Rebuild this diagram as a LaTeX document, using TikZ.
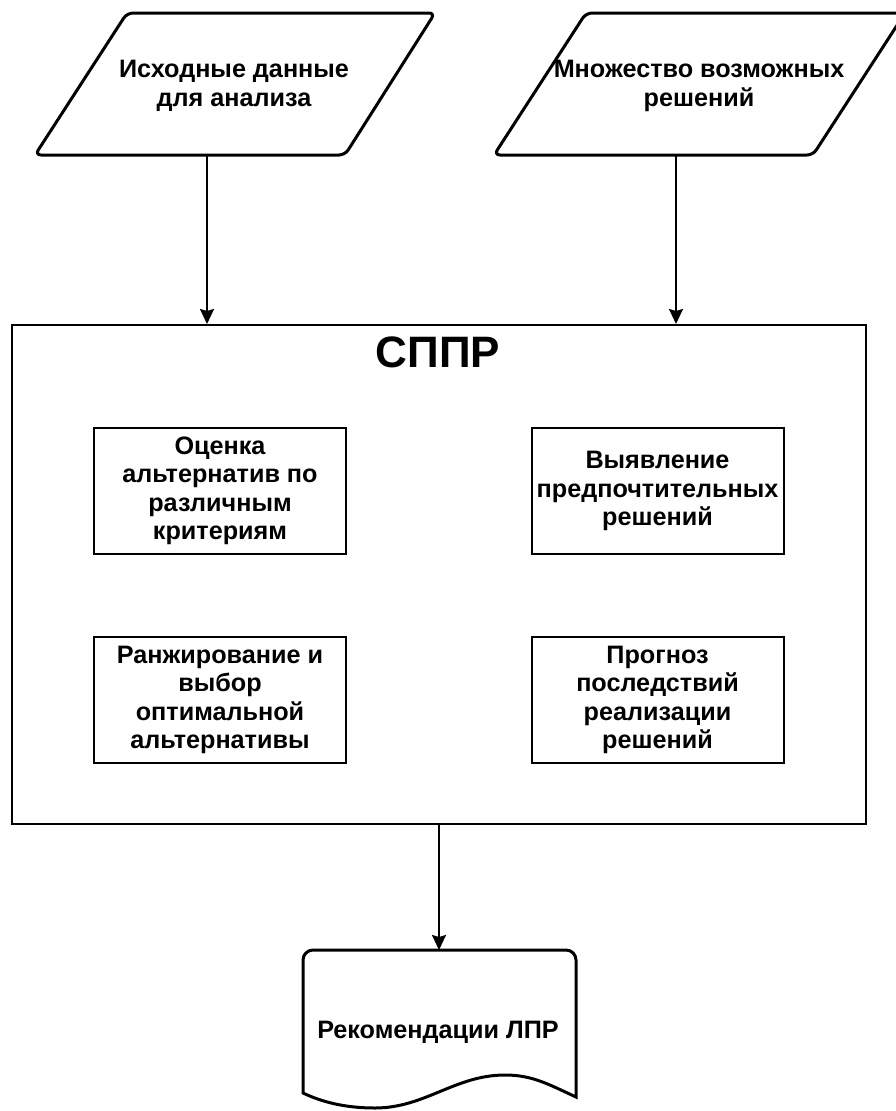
\documentclass[tikz,border=0pt]{standalone}
\usepackage{fontspec}
\setmainfont{Liberation Sans}
\usetikzlibrary{arrows.meta}
\begin{document}
\begin{tikzpicture}[x=1pt,y=-1pt,
  iofig/.style={line width=3pt, rounded corners=6pt},
  txt/.style={align=center, inner sep=0pt, font=\fontsize{25.2}{28.5}\selectfont\bfseries},
  inbox/.style={txt, draw, line width=2pt, minimum width=252pt, minimum height=126pt},
  arr/.style={-{Stealth[length=15pt,width=14pt,inset=2pt]}, line width=2pt},
  docfig/.style={line width=3pt}
]
\path[fill=white] (0,0) rectangle (896,1111);
\useasboundingbox (0,0) rectangle (896,1111);

% input parallelograms
\draw[iofig] (127,13) -- (435,13) -- (345,155) -- (35,155) -- cycle;
\node[txt] (in1) at (234,86) {Исходные данные\\для анализа};
\coordinate (p1b) at (207,155);

\draw[iofig] (586,13) -- (905,13) -- (813,155) -- (494,155) -- cycle;
\node[txt] (in2) at (699,86) {Множество возможных\\решений};
\coordinate (p2b) at (676,155);

% main box
\node[draw, line width=2pt, minimum width=854pt, minimum height=499pt, inner sep=0pt] (sppr) at (439,574.5) {};
\node[inner sep=0pt, font=\fontsize{44}{50}\selectfont\bfseries, anchor=base] (title) at (438,367) {СППР};

% inner boxes
\node[inbox] (b1) at (220,491) {Оценка\\альтернатив по\\различным\\критериям};
\node[inbox] (b2) at (657.5,491) {Выявление\\предпочтительных\\решений};
\node[inbox] (b3) at (220,700) {Ранжирование и\\выбор\\оптимальной\\альтернативы};
\node[inbox] (b4) at (657.5,700) {Прогноз\\последствий\\реализации\\решений};

% document
\draw[docfig] (303,1093) [rounded corners=10pt] -- (303,950) -- (576,950) [sharp corners] -- (576,1097)
  .. controls (548,1084) and (532,1075) .. (505,1075)
  .. controls (455,1075) and (425,1108) .. (375,1108)
  .. controls (345,1108) and (322,1102) .. (303,1093) -- cycle;
\coordinate (doctop) at (439,950);
\node[txt] (doc) at (438,1032) {Рекомендации ЛПР};

% connectors
\draw[arr] (p1b) -- (p1b |- sppr.north);
\draw[arr] (p2b) -- (p2b |- sppr.north);
\draw[arr] (sppr.south) -- (doctop);
\end{tikzpicture}
\end{document}
